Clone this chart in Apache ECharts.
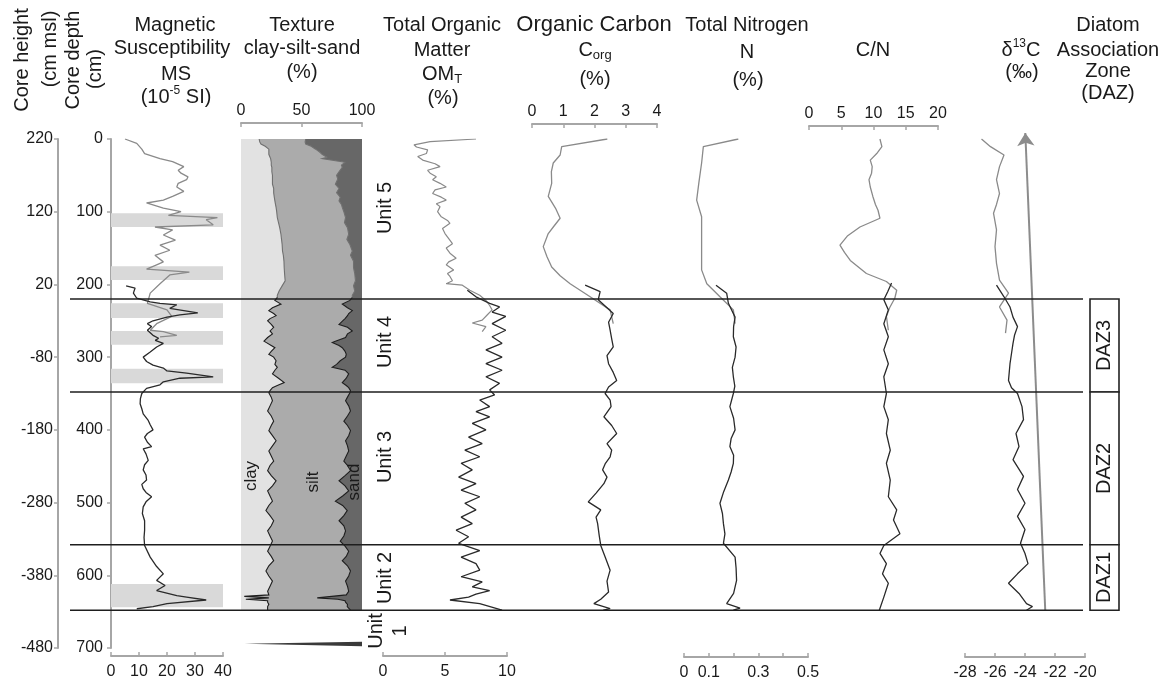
<!DOCTYPE html>
<html>
<head>
<meta charset="utf-8">
<title>Core profile</title>
<script src="https://cdn.jsdelivr.net/npm/echarts/dist/echarts.min.js"></script>
<style>
  html, body { margin: 0; padding: 0; background: #fff; }
  #chart { width: 1168px; height: 684px; }
</style>
</head>
<body>
<div id="chart"></div>
<script>
// ---------- data: [depth (cm), value] ----------
var heightAtTop = 220;               // core height (cm msl) at depth 0
var unitBounds = [220, 348, 558, 648];
var dazZones = [['DAZ3', 220, 348], ['DAZ2', 348, 558], ['DAZ1', 558, 648]];
var msBands = [[102, 121], [175, 194], [226, 246], [264, 283], [316, 336], [612, 644]];

var msUpper = [[0,5],[6,9.2],[14,11],[20,12],[27,17.5],[31,22],[38,26],[43,24],[47,25],[52,27.5],[56,27],[61,24],[66,23.5],[72,26],[79,22],[84,18.7],[88,12.7],[95,18.7],[100,25],[105,20.5],[108,38],[111,34],[118,36.5],[121,15.7],[125,22],[132,18.7],[139,23],[146,17.5],[153,21],[160,15.7],[169,18.7],[173,16.3],[179,12.7],[183,28],[187,21],[199,17.5],[212,14],[226,13],[235,20],[244,21.7],[254,16.3],[263,14],[265,18.7],[270,23.5],[272,17.5]];
var msLower = [[202,5.4],[205,8.6],[212,8],[219,9.2],[224,14],[226,17.5],[228,23.5],[233,21],[239,31],[242,24.6],[245,20],[250,15],[254,13],[258,14.5],[263,13],[270,15],[274,17],[277,15.8],[281,18.7],[286,16.3],[293,14],[300,11.5],[306,12.7],[311,15],[315,18.7],[319,20],[322,27],[327,36.5],[329,24.6],[334,18.7],[338,17.5],[343,12.7],[350,11],[357,10.5],[364,10.4],[371,11],[378,11.5],[387,13.3],[393,14],[400,15],[405,13],[410,12],[417,13],[423,14.5],[426,11.5],[433,12.5],[442,13.3],[448,12],[455,11.5],[462,12.5],[469,12.7],[475,11],[481,11.5],[486,12.5],[492,14.5],[499,12.5],[506,11.5],[515,11.2],[525,12],[538,12],[548,11.8],[559,12],[575,14],[588,16.3],[598,18.7],[607,16.3],[614,19.3],[621,16.3],[628,23.5],[630,27],[634,34],[639,20],[643,15],[646,9.2]];

// texture rows: [depth, clay %, sand %]  (silt = the rest)
var textureRows = [[0,15,46.5],[4,15.5,47],[7,16.5,46.5],[10,20,42],[14,23,38.3],[18,23,35],[21,23,33],[25,24,29],[27,24.5,33],[32,25,14],[36,25,17],[39,25.5,16.3],[45,25.5,19],[50,26,21],[55,26,20],[62,26,22],[68,27,19],[74,27,21],[80,27.5,18],[85,28,19],[90,28.5,17],[94,29,16.3],[100,29.5,15],[108,30,13.6],[115,31,14.5],[122,32,12],[131,33,11],[138,33.5,12.5],[145,34,10],[154,34.3,8],[160,35,9.5],[168,35.5,7],[177,35.7,7],[185,36,6],[195,36.5,5.4],[202,34,7],[209,31.5,6],[215,30,8],[218,30,8],
  [222,28,10],[227,33,16.3],[232,26,12],[236,23,8],[240,27,11],[243,29,12],[247,24,14],[250,22,16],[255,25,19],[259,27,12],[264,24,8],[268,26,12],[273,22,13.6],[278,19,22],[280,21,24.6],[284,25,19],[287,28,16.3],[292,25,14],[296,23,13],[300,27,13.6],[305,29,18],[310,28,21],[314,30,24.6],[318,28,14],[323,26,11],[329,31,13],[335,35.7,16.3],[339,30,13],[342,26,11],[346,24,9.5],[349,23,10],[355,25,12],[360,26,13.6],[367,24,11],[374,22,9.5],[381,25,12],[388,27,15],[394,25,12],[401,23,9.5],[408,26,11],[415,29,13.6],[422,26,12],[429,23,11],[436,25,13],[443,27,15],[449,24,12],[456,22,9.5],[463,25,14],[470,29,19],[477,26,14],[484,22,11],[491,24,16],[498,26,22],[504,23,16],[511,20.6,12.2],[518,24,15],[525,27,19],[532,25,15],[539,22,13.6],[546,24,15],[553,26,18],[560,24,14],[567,22,11],[574,25,13],[580,27,16.3],[587,23,12],[594,20.6,9.5],[601,23,11],[608,26,13.6],[615,24,12],[622,22,11],[627,23,13],[629,2.7,25],[631,23,37],[633,4,20],[635,22,14],[637,22,13.6],[640,23,12],[643,22,12.2],[648,22,9.5]];
var unit1Wedge = [[3,694],[100,691.5],[100,697.5]];   // [%, depth]

var omUpper = [[0,7.5],[3.7,3.8],[8,2.5],[11,2.7],[15,3.6],[20,3.5],[24,2.8],[29,3.2],[34,4.2],[38,4.6],[43,3.6],[47,3.8],[52,4.3],[56,4],[61,4.6],[66,5.1],[70,4.2],[75,4],[80,4.7],[84,5.1],[89,4.3],[93,4.6],[100,4.4],[107,4.7],[112,5.2],[116,5.4],[123,4.8],[130,5],[137,5.3],[144,5.6],[150,5.1],[157,5.4],[164,5.9],[169,5.3],[173,5.1],[180,5.7],[185,5.2],[189,5.4],[195,5.6],[199,5.1],[201,6.4],[208,7],[215,7.8],[222,8.3],[229,8.6],[235,8.8],[242,8.4],[249,8],[253,7.2],[258,8.3],[265,8]];
var omLower = [[208,6.8],[217,7.5],[226,8.6],[231,9.4],[238,8.8],[244,9.9],[254,8.8],[263,9.9],[272,8.8],[281,9.6],[290,8.3],[300,9.6],[309,8.3],[318,9.6],[327,8.3],[336,9.4],[345,8.6],[352,9],[359,7.8],[368,8.6],[375,7.5],[382,8.6],[391,7.2],[400,8.3],[410,6.9],[419,8],[428,6.6],[437,7.8],[446,6.3],[455,7.2],[465,6.1],[474,7.5],[483,6.3],[492,7.8],[501,6.6],[510,7.5],[520,6.3],[529,7.2],[538,5.9],[547,6.9],[556,6.1],[566,7.8],[575,6.3],[584,7.5],[593,7.8],[602,6.3],[609,8],[616,7.2],[621,8.6],[626,7.5],[630,6.9],[634,5.4],[639,7.8],[648,9.6]];

var corgUpper = [[0,2.41],[10.5,0.95],[22,0.9],[33,0.68],[45,0.62],[61,0.63],[79,0.52],[95,0.75],[109,0.9],[120,0.7],[130,0.52],[148,0.36],[162,0.48],[176,0.63],[188,0.9],[199,1.22],[217,1.86],[235,2.5],[254,2.6]];
var corgLower = [[201,1.7],[210,2.18],[221,2.12],[240,2.6],[252,2.45],[263,2.5],[275,2.55],[286,2.6],[298,2.4],[309,2.45],[321,2.6],[332,2.71],[341,2.45],[350,2.34],[359,2.5],[368,2.53],[382,2.3],[394,2.55],[405,2.71],[419,2.4],[428,2.55],[437,2.5],[446,2.35],[455,2.26],[465,2.4],[474,2.3],[487,2.05],[499,1.8],[510,2.2],[520,2.05],[529,2.1],[545,2.15],[559,2.2],[576,2.35],[593,2.5],[608,2.4],[623,2.45],[633,2.2],[639,1.98],[646,2.5],[648,2.28]];

var nUpper = [[0,0.219],[10.5,0.078],[33,0.071],[60,0.06],[84,0.051],[107,0.071],[140,0.071],[180,0.071],[199,0.092],[217,0.145],[235,0.199],[254,0.206]];
var nLower = [[201,0.129],[212,0.172],[226,0.179],[245,0.206],[258,0.2],[272,0.199],[286,0.21],[300,0.206],[314,0.195],[327,0.199],[340,0.205],[350,0.199],[368,0.185],[384,0.2],[400,0.206],[412,0.19],[423,0.185],[435,0.2],[446,0.199],[458,0.19],[469,0.179],[485,0.16],[501,0.145],[515,0.155],[529,0.159],[543,0.165],[556,0.159],[575,0.206],[590,0.21],[607,0.212],[625,0.2],[639,0.172],[645,0.226],[648,0.199]];

var cnUpper = [[0,11],[10.5,11.3],[20,10.5],[29,9.5],[38,9.8],[47,9.7],[56,9.3],[66,9.5],[79,9.9],[90,10.3],[98,10.7],[109,11],[121,7.9],[133,6],[146,4.8],[156,5.5],[167,6.4],[185,8.9],[196,12],[208,13.6],[219,13.3],[232,12.5],[244,12],[263,12.3]];
var cnLower = [[198,12.8],[210,12.2],[221,11.6],[235,12.3],[254,11.6],[272,12.3],[290,11.6],[309,12.3],[327,11.6],[350,12],[368,11.6],[386,12.3],[405,12],[428,12.6],[446,12],[469,12.6],[492,12.3],[510,13.6],[524,13.1],[543,14.1],[559,11.6],[570,11],[584,12],[598,11.4],[611,12.3],[630,11.6],[648,10.9]];

var d13cUpper = [[0,-26.9],[10.5,-26.3],[22,-25.4],[38,-25.7],[56,-25.9],[75,-25.7],[90,-25.9],[102,-26.1],[125,-25.9],[148,-26],[171,-25.9],[194,-25.7],[212,-25.1],[231,-25.7],[249,-25.2],[267,-25.3]];
var d13cLower = [[201,-25.9],[217,-25.4],[231,-25],[245,-24.8],[258,-24.5],[270,-24.7],[281,-24.8],[295,-24.9],[309,-25],[332,-25.1],[342,-24.9],[350,-24.5],[368,-24.2],[386,-24.1],[405,-24.6],[423,-24.4],[441,-24.8],[464,-24.1],[482,-24.5],[501,-24],[519,-24.5],[537,-24],[556,-24.3],[570,-24],[584,-23.8],[598,-24.5],[611,-25.1],[625,-24.4],[639,-23.9],[643,-23.5],[648,-23.9]];
var trendArrow = [[-22.65, 648], [-23.98, -8.3]];  // [δ13C, depth]

var nLabels = [0, 0.1, 0.3, 0.5];

// ---------- layout ----------
var FONT = '"Liberation Sans", Arial, Helvetica, sans-serif';
var INK = '#1a1a1a';
var AX = '#a6a6a6';
var LIGHT = '#8a8a8a', DARK = '#2a2a2a';
var TOP = 139, H = 509;

var myChart = echarts.init(document.getElementById('chart'));

// left edge and width of every panel
var panels = [[58, 1], [111, 112], [241, 121], [383, 124], [532, 125], [684, 124], [809, 129], [965, 120], [1090, 29], [70, 1013]];

var grids = panels.map(function (p) {
  return { left: p[0], top: TOP, width: p[1], height: H, containLabel: false, outerBoundsMode: 'none' };
});

var yAxes = panels.map(function (p, i) {
  var shown = i <= 1;
  return {
    gridIndex: i, type: 'value', inverse: true, min: 0, max: 700, interval: 100,
    show: shown, position: 'left',
    axisLine: { show: shown, lineStyle: { color: AX, width: 2 } },
    axisTick: { show: shown, length: 4, lineStyle: { color: AX, width: 1.5 } },
    axisLabel: {
      show: shown, color: INK, fontSize: 16, fontFamily: FONT, margin: i === 0 ? 5 : 8,
      formatter: i === 0 ? function (v) { return String(heightAtTop - v); } : '{value}'
    },
    splitLine: { show: false }
  };
});

function valueAxis(gi, min, max, interval, pos, offset, formatter) {
  return {
    gridIndex: gi, type: 'value', min: min, max: max, interval: interval,
    position: pos, offset: offset,
    axisLine: { show: true, onZero: false, lineStyle: { color: AX, width: 2 } },
    axisTick: { show: true, inside: true, length: 4, lineStyle: { color: AX, width: 1.5 } },
    axisLabel: { color: INK, fontSize: 16, fontFamily: FONT, margin: pos === 'top' ? 4 : 8,
      showMinLabel: true, showMaxLabel: true, formatter: formatter || '{value}' },
    splitLine: { show: false }
  };
}
function hiddenAxis(gi) {
  return { gridIndex: gi, type: 'value', min: 0, max: 1, show: false, splitLine: { show: false } };
}

var xAxes = [
  hiddenAxis(0),
  valueAxis(1, 0, 40, 10, 'bottom', 8),
  valueAxis(2, 0, 100, 50, 'top', 16),
  valueAxis(3, 0, 10, 5, 'bottom', 8),
  valueAxis(4, 0, 4, 1, 'top', 15),
  valueAxis(5, 0, 0.5, 0.1, 'bottom', 9, function (v) {
    return nLabels.some(function (t) { return Math.abs(t - v) < 1e-6; }) ? String(+v.toFixed(1)) : '';
  }),
  valueAxis(6, 0, 20, 5, 'top', 13),
  valueAxis(7, -28, -20, 2, 'bottom', 9),
  hiddenAxis(8),
  hiddenAxis(9)
];

function lineSeries(gi, pts, color, width) {
  return {
    type: 'line', xAxisIndex: gi, yAxisIndex: gi,
    data: pts.map(function (p) { return [p[1], p[0]]; }),
    symbol: 'none', showSymbol: false, silent: true, z: 3,
    lineStyle: { color: color, width: width }, itemStyle: { color: color },
    emphasis: { disabled: true }
  };
}

function renderTexture(params, api) {
  if (params.dataIndex !== 0) return null;
  var P = function (v, d) { return api.coord([v, d]); };
  var last = textureRows[textureRows.length - 1][0];
  var clayPts = textureRows.map(function (r) { return P(r[1], r[0]); });
  var sandPts = textureRows.map(function (r) { return P(100 - r[2], r[0]); });
  var a = P(0, 0), b = P(100, last);
  var up = textureRows.filter(function (r) { return r[0] <= 222; });
  var lo = textureRows.filter(function (r) { return r[0] >= 218; });
  function edge(rows, clay, stroke) {
    return { type: 'polyline',
      shape: { points: rows.map(function (r) { return P(clay ? r[1] : 100 - r[2], r[0]); }) },
      style: { stroke: stroke, lineWidth: 1.1, fill: null } };
  }
  return {
    type: 'group',
    children: [
      { type: 'rect', shape: { x: a[0], y: a[1], width: b[0] - a[0], height: b[1] - a[1] }, style: { fill: '#e2e2e2' } },
      { type: 'polygon', shape: { points: clayPts.concat(sandPts.slice().reverse()) }, style: { fill: '#ababab' } },
      { type: 'polygon', shape: { points: sandPts.concat([P(100, last), P(100, 0)]) }, style: { fill: '#676767' } },
      { type: 'polygon', shape: { points: unit1Wedge.map(function (p) { return P(p[0], p[1]); }) }, style: { fill: '#3a3a3a' } },
      edge(up, true, '#707070'), edge(up, false, '#707070'),
      edge(lo, true, '#1e1e1e'), edge(lo, false, '#1e1e1e')
    ]
  };
}

var series = [
  { // grey marker bands in the MS column
    type: 'custom', xAxisIndex: 1, yAxisIndex: 1, z: 1, silent: true,
    data: msBands.map(function (b) { return [0, b[0], b[1]]; }),
    renderItem: function (params, api) {
      var p0 = api.coord([0, api.value(1)]), p1 = api.coord([40, api.value(2)]);
      return { type: 'rect', shape: { x: p0[0], y: p0[1], width: p1[0] - p0[0], height: p1[1] - p0[1] }, style: { fill: '#d9d9d9' } };
    }
  },
  lineSeries(1, msUpper, LIGHT, 1.3),
  lineSeries(1, msLower, DARK, 1.3),
  { type: 'custom', xAxisIndex: 2, yAxisIndex: 2, z: 1, silent: true, data: [[0, 0]], renderItem: renderTexture },
  lineSeries(3, omUpper, LIGHT, 1.2),
  lineSeries(3, omLower, DARK, 1.3),
  lineSeries(4, corgUpper, LIGHT, 1.3),
  lineSeries(4, corgLower, DARK, 1.3),
  lineSeries(5, nUpper, LIGHT, 1.3),
  lineSeries(5, nLower, DARK, 1.3),
  lineSeries(6, cnUpper, LIGHT, 1.3),
  lineSeries(6, cnLower, DARK, 1.3),
  lineSeries(7, d13cUpper, LIGHT, 1.3),
  lineSeries(7, d13cLower, DARK, 1.3),
  {
    type: 'lines', coordinateSystem: 'cartesian2d', xAxisIndex: 7, yAxisIndex: 7,
    clip: false, silent: true, z: 4, polyline: false,
    symbol: ['none', 'arrow'], symbolSize: 13,
    lineStyle: { color: '#8c8c8c', width: 2, opacity: 1, curveness: 0 },
    data: [{ coords: trendArrow }]
  },
  { // DAZ boxes
    type: 'custom', xAxisIndex: 8, yAxisIndex: 8, z: 5, silent: true,
    data: dazZones.map(function (z) { return [0, z[1], z[2]]; }),
    renderItem: function (params, api) {
      var p0 = api.coord([0, api.value(1)]), p1 = api.coord([1, api.value(2)]);
      return {
        type: 'group',
        children: [
          { type: 'rect', shape: { x: p0[0], y: p0[1], width: p1[0] - p0[0], height: p1[1] - p0[1] },
            style: { fill: '#fff', stroke: '#222', lineWidth: 1.6 } },
          { type: 'text', x: (p0[0] + p1[0]) / 2, y: (p0[1] + p1[1]) / 2, rotation: Math.PI / 2,
            style: { text: dazZones[params.dataIndex][0], fill: INK, font: '20px ' + FONT,
              textAlign: 'center', textVerticalAlign: 'middle', align: 'center', verticalAlign: 'middle' } }
        ]
      };
    }
  },
  { // lithological unit boundaries across all columns
    type: 'custom', xAxisIndex: 9, yAxisIndex: 9, z: 6, silent: true,
    data: unitBounds.map(function (d) { return [0, d]; }),
    renderItem: function (params, api) {
      var a = api.coord([0, api.value(1)]), b = api.coord([1, api.value(1)]);
      return { type: 'line', shape: { x1: a[0], y1: a[1], x2: b[0], y2: b[1] }, style: { stroke: '#1e1e1e', lineWidth: 1.6 } };
    }
  }
];

// ---------- header and in-plot text ----------
var RICH = {
  sup: { fontSize: 12, fontFamily: FONT, fill: INK, lineHeight: 14, verticalAlign: 'top', textVerticalAlign: 'top' },
  sub: { fontSize: 13, fontFamily: FONT, fill: INK, lineHeight: 8, verticalAlign: 'bottom', textVerticalAlign: 'bottom' }
};
function label(x, y, text, size, rot) {
  var style = { text: text, fill: INK, font: (size || 20) + 'px ' + FONT, lineHeight: 24,
    textAlign: 'center', textVerticalAlign: 'middle', align: 'center', verticalAlign: 'middle' };
  if (text.indexOf('{') >= 0) style.rich = RICH;
  return { type: 'text', x: x, y: y, rotation: rot || 0, z: 100, silent: true, style: style };
}
var R = Math.PI / 2;
var texts = [
  label(22, 60, 'Core height', 20, R), label(50, 49, '(cm msl)', 20, R),
  label(73, 60, 'Core depth', 20, R), label(95, 69, '(cm)', 20, R),
  label(175, 25, 'Magnetic'), label(172, 48, 'Susceptibility'), label(176, 74, 'MS'), label(176, 97, '(10{sup|-5} SI)'),
  label(302, 25, 'Texture'), label(302, 48, 'clay-silt-sand'), label(302, 72, '(%)'),
  label(442, 25, 'Total Organic'), label(442, 50, 'Matter'), label(442, 74, 'OM{sub|T}'), label(443, 98, '(%)'),
  label(594, 25, 'Organic Carbon', 22), label(595, 50, 'C{sub|org}'), label(595, 79, '(%)'),
  label(747, 25, 'Total Nitrogen'), label(747, 52, 'N'), label(748, 80, '(%)'),
  label(873, 50, 'C/N'),
  label(1021, 50, 'δ{sup|13}C'), label(1022, 72, '(‰)'),
  label(1108, 25, 'Diatom'), label(1108, 50, 'Association'), label(1108, 71, 'Zone'), label(1108, 93, '(DAZ)'),
  label(251, 476, 'clay', 17, R), label(313, 482, 'silt', 17, R), label(354, 482, 'sand', 17, R),
  label(385, 208, 'Unit 5', 20, R), label(385, 342, 'Unit 4', 20, R), label(385, 457, 'Unit 3', 20, R),
  label(385, 578, 'Unit 2', 20, R), label(388, 631, 'Unit\n1', 20, R)
];

myChart.setOption({
  animation: false,
  backgroundColor: '#fff',
  textStyle: { fontFamily: FONT },
  grid: grids,
  xAxis: xAxes,
  yAxis: yAxes,
  series: series,
  graphic: { elements: texts }
});
</script>
</body>
</html>
